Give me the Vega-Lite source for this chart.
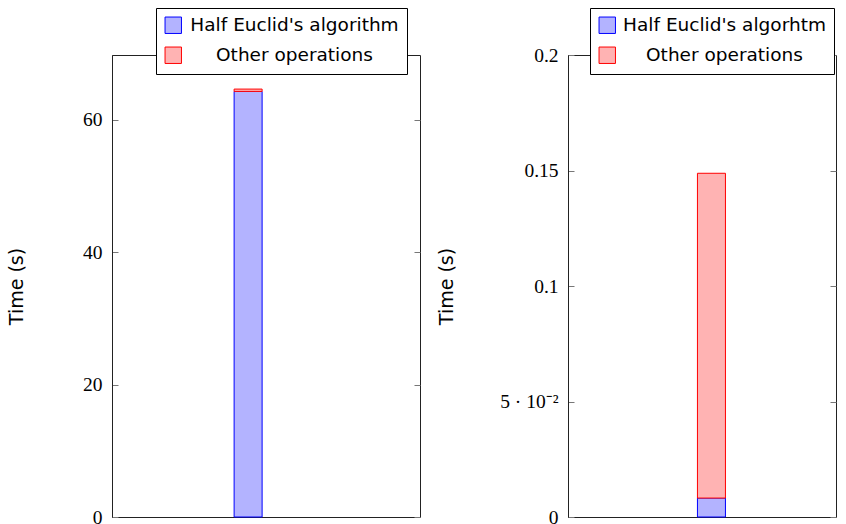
{
  "$schema": "https://vega.github.io/schema/vega-lite/v6.json",
  "padding": {"left": 6, "top": 7, "right": 0, "bottom": 0},
  "spacing": 15,
  "config": {
    "view": {"stroke": "#222", "strokeWidth": 1},
    "axis": {
      "labelFont": "Liberation Serif", "labelFontSize": 19.5, "labelColor": "#000",
      "titleFont": "DejaVu Sans", "titleFontSize": 19, "titleFontWeight": "normal", "titleColor": "#000",
      "grid": false, "domainColor": "#222", "tickColor": "#777", "tickSize": -6
    },
    "legend": {
      "orient": "none", "title": null, "strokeColor": "#000", "fillColor": "#fff",
      "padding": 8, "labelFont": "DejaVu Sans", "labelFontSize": 18.5, "labelColor": "#000",
      "labelAlign": "center", "symbolType": "square", "symbolSize": 270,
      "symbolStrokeWidth": 1, "rowPadding": 9, "labelLimit": 0
    }
  },
  "hconcat": [
    {
      "width": 308, "height": 462,
      "data": {"values": [
        {"pos": 1, "part": "Half Euclid's algorithm", "time": 64.3},
        {"pos": 1, "part": "Other operations", "time": 0.35}
      ]},
      "layer": [
        {
          "mark": {"type": "bar", "width": 28, "strokeWidth": 1},
          "encoding": {
            "x": {"field": "pos", "type": "quantitative", "scale": {"domain": [-0.1, 2.4]}, "axis": null},
            "y": {"field": "time", "type": "quantitative", "stack": "zero",
                  "scale": {"domain": [0, 69.8], "nice": false},
                  "axis": {"values": [0, 20, 40, 60], "title": "Time (s)", "labelPadding": 16, "titleX": -86, "labelExpr": "'' + datum.value"}},
            "order": {"field": "part", "sort": "ascending"},
            "fill": {"field": "part", "type": "nominal",
                     "scale": {"domain": ["Half Euclid's algorithm", "Other operations"], "range": ["#b3b3ff", "#ffb3b3"]},
                     "legend": {"legendX": 44, "legendY": -47, "labelOffset": 112}},
            "stroke": {"field": "part", "type": "nominal",
                       "scale": {"domain": ["Half Euclid's algorithm", "Other operations"], "range": ["#0000ff", "#ff0000"]},
                       "legend": {"legendX": 44, "legendY": -47, "labelOffset": 112}}
          }
        },
        {
          "mark": {"type": "point", "opacity": 0},
          "encoding": {
            "y": {"field": "time", "type": "quantitative",
                  "axis": {"orient": "right", "values": [0, 20, 40, 60], "labels": false, "domain": false, "title": null}}
          }
        }
      ],
      "resolve": {"axis": {"y": "independent"}}
    },
    {
      "width": 268, "height": 462,
      "data": {"values": [
        {"pos": 1, "part": "Half Euclid's algorhtm", "time": 0.0082},
        {"pos": 1, "part": "Other operations", "time": 0.1406}
      ]},
      "layer": [
        {
          "mark": {"type": "bar", "width": 28, "strokeWidth": 1},
          "encoding": {
            "x": {"field": "pos", "type": "quantitative", "scale": {"domain": [-0.1, 1.95]}, "axis": null},
            "y": {"field": "time", "type": "quantitative", "stack": "zero",
                  "scale": {"domain": [0, 0.2], "nice": false},
                  "axis": {"values": [0, 0.05, 0.1, 0.15, 0.2], "title": "Time (s)", "labelPadding": 16, "titleX": -112,
                           "labelExpr": "datum.value == 0.05 ? '5 · 10⁻²' : '' + datum.value"}},
            "order": {"field": "part", "sort": "ascending"},
            "fill": {"field": "part", "type": "nominal",
                     "scale": {"domain": ["Half Euclid's algorhtm", "Other operations"], "range": ["#b3b3ff", "#ffb3b3"]},
                     "legend": {"legendX": 22, "legendY": -47, "labelOffset": 108}},
            "stroke": {"field": "part", "type": "nominal",
                       "scale": {"domain": ["Half Euclid's algorhtm", "Other operations"], "range": ["#0000ff", "#ff0000"]},
                       "legend": {"legendX": 22, "legendY": -47, "labelOffset": 108}}
          }
        },
        {
          "mark": {"type": "point", "opacity": 0},
          "encoding": {
            "y": {"field": "time", "type": "quantitative",
                  "axis": {"orient": "right", "values": [0, 0.05, 0.1, 0.15, 0.2], "labels": false, "domain": false, "title": null}}
          }
        }
      ],
      "resolve": {"axis": {"y": "independent"}}
    }
  ],
  "resolve": {
    "scale": {"fill": "independent", "stroke": "independent", "x": "independent", "y": "independent"},
    "legend": {"fill": "independent", "stroke": "independent"}
  }
}
